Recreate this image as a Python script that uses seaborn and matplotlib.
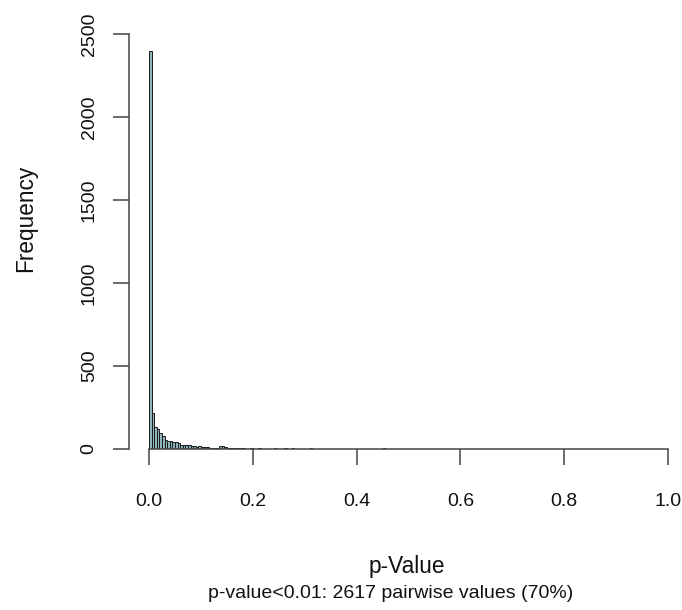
import matplotlib
matplotlib.use("Agg")
import matplotlib.pyplot as plt
import seaborn as sns
import pandas as pd

# Histogram data (bin midpoints of 0.005-wide bins, counts)
p_mid = [0.0025, 0.0075, 0.0125, 0.0175, 0.0225, 0.0275, 0.0325, 0.0375,
         0.0425, 0.0475, 0.0525, 0.0575, 0.0625, 0.0675, 0.0725, 0.0775,
         0.0825, 0.0875, 0.0925, 0.0975, 0.1025, 0.1075, 0.1125, 0.1175,
         0.1225, 0.1275, 0.1325, 0.1375, 0.1425, 0.1475, 0.1525, 0.1575,
         0.1625, 0.1675, 0.1725, 0.1775, 0.1825, 0.1875, 0.1975, 0.2025,
         0.2075, 0.2125, 0.2175, 0.2225, 0.2275, 0.2375, 0.2425, 0.2475,
         0.2625, 0.2675, 0.2725, 0.2775, 0.2825, 0.2875, 0.3075, 0.3125,
         0.4525]
counts = [2400, 217, 130, 120, 94, 78, 54, 50,
          50, 44, 40, 34, 27, 24, 22, 25,
          18, 16, 15, 16, 14, 13, 12, 9,
          8, 7, 8, 18, 20, 15, 7, 6,
          5, 5, 4, 5, 4, 3, 4, 3,
          3, 4, 3, 3, 2, 3, 4, 3,
          4, 3, 3, 4, 3, 2, 3, 4,
          5]

x_ticks = [0.0, 0.2, 0.4, 0.6, 0.8, 1.0]
x_tick_labels = ["0.0", "0.2", "0.4", "0.6", "0.8", "1.0"]
y_ticks = [0, 500, 1000, 1500, 2000, 2500]
y_tick_labels = ["0", "500", "1000", "1500", "2000", "2500"]

x_label = "p-Value"
y_label = "Frequency"
subtitle = "p-value<0.01: 2617 pairwise values (70%)"

df = pd.DataFrame({"p": p_mid, "n": counts})

sns.set_style("white")
plt.rcParams["font.family"] = ["Liberation Sans", "DejaVu Sans"]

W, H = 682, 610
fig = plt.figure(figsize=(W / 100, H / 100), dpi=100)
ax = fig.add_axes([129 / W, (H - 449) / H, (W - 129) / W, 449 / H])

sns.histplot(data=df, x="p", weights="n", bins=200, binrange=(0, 1),
             color="#8DB6BB", edgecolor="#1a1a1a", linewidth=0.7,
             alpha=1.0, ax=ax)

ax.set_xlim((129 - 149) / 519, (W - 149) / 519)
ax.set_ylim(0, 449 / 0.166)

for s in ["top", "right"]:
    ax.spines[s].set_visible(False)
axis_col = "#444444"
ax.spines["left"].set_bounds(0, 2500)
ax.spines["bottom"].set_bounds(0, 1)
for s in ["left", "bottom"]:
    ax.spines[s].set_color(axis_col)
    ax.spines[s].set_linewidth(1.1)

ax.set_xticks(x_ticks)
ax.set_xticklabels(x_tick_labels)
ax.set_yticks(y_ticks)
ax.set_yticklabels(y_tick_labels, rotation=90, va="center")
ax.tick_params(axis="both", direction="out", length=11.5, width=1.1,
               color=axis_col, labelsize=14, labelcolor="#111111",
               bottom=True, left=True)
ax.tick_params(axis="x", pad=20)
ax.tick_params(axis="y", pad=11)
ax.set_xlabel("")
ax.set_ylabel("")
ax.grid(False)

fig.text(407 / W, 1 - 567 / H, x_label, ha="center", va="center",
         fontsize=16.3, color="#111111")
fig.text(391 / W, 1 - 594 / H, subtitle, ha="center", va="center",
         fontsize=14, color="#111111")
fig.text(26 / W, 1 - 218 / H, y_label, ha="center", va="center",
         rotation=90, fontsize=16.3, color="#111111")

fig.savefig("out.png", dpi=100)
